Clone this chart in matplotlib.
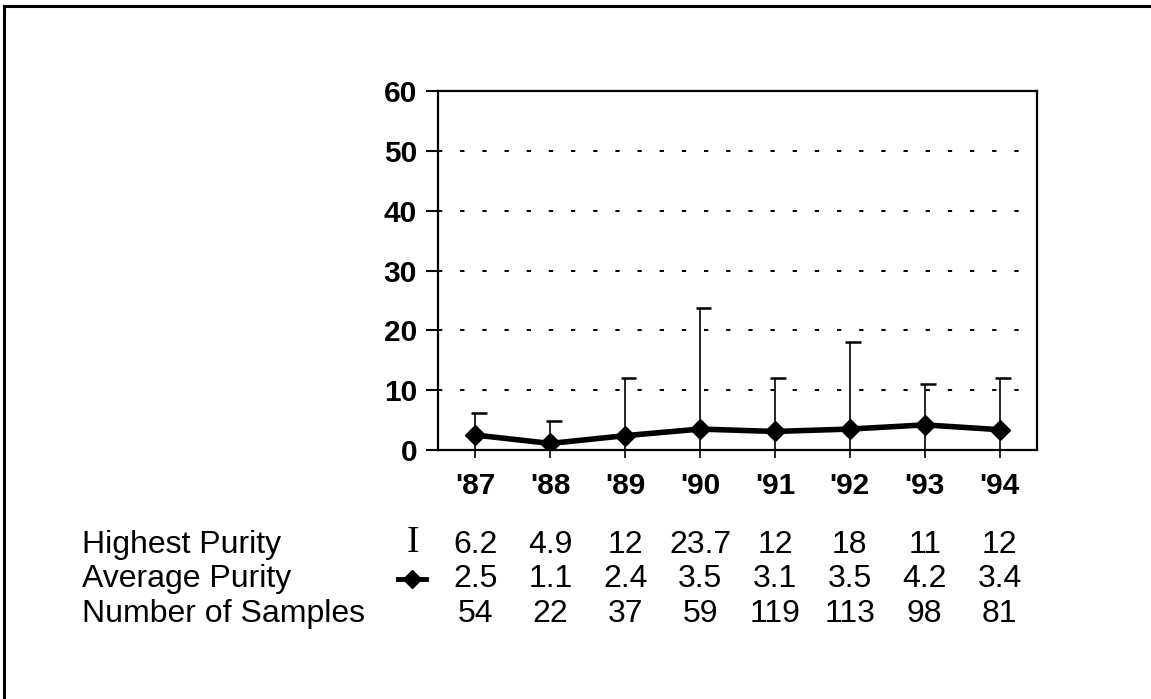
import matplotlib
matplotlib.use("Agg")
import matplotlib.pyplot as plt
from matplotlib.lines import Line2D
import matplotlib.transforms as mtrans

plt.rcParams['font.family'] = ['Liberation Sans', 'DejaVu Sans']

years = ["'87", "'88", "'89", "'90", "'91", "'92", "'93", "'94"]
highest = [6.2, 4.9, 12, 23.7, 12, 18, 11, 12]
average = [2.5, 1.1, 2.4, 3.5, 3.1, 3.5, 4.2, 3.4]
samples = [54, 22, 37, 59, 119, 113, 98, 81]
highest_lbl = ["6.2", "4.9", "12", "23.7", "12", "18", "11", "12"]
average_lbl = ["2.5", "1.1", "2.4", "3.5", "3.1", "3.5", "4.2", "3.4"]
row_names = ["Highest Purity", "Average Purity", "Number of Samples"]

fig = plt.figure(figsize=(11.51, 6.99), dpi=100)
ax = fig.add_axes([0.3805, 0.3562, 0.5205, 0.5136])
x = list(range(len(years)))

# grid
for g in [10, 20, 30, 40, 50]:
    ax.axhline(g, color='black', lw=1.4, dashes=(2.2, 9.2), zorder=1)

# high bars from 0 with cap leaning right
ax.vlines(x, 0, highest, color='black', lw=1.2, zorder=2)
ax.hlines(highest, [i - 0.06 for i in x], [i + 0.15 for i in x], color='black', lw=1.8, zorder=2)

ax.plot(x, average, color='black', lw=4, marker='D', markersize=10, zorder=3)

ax.set_xlim(-0.5, 7.5)
ax.set_ylim(0, 60)
ax.set_yticks([0, 10, 20, 30, 40, 50, 60])
ax.set_xticks(x)
ax.set_xticklabels(years, fontweight='bold', fontsize=21.5)
for lbl in ax.get_yticklabels():
    lbl.set_fontweight('bold')
    lbl.set_fontsize(21.5)
ax.tick_params(axis='y', direction='out', length=9, width=1.5, pad=6)
ax.tick_params(axis='x', direction='out', length=6, width=1.2, pad=10)
for s in ax.spines.values():
    s.set_linewidth(1.6)

# data table below
row_y = [0.221, 0.171, 0.122]
tr = mtrans.blended_transform_factory(ax.transData, fig.transFigure)
for name, yy in zip(row_names, row_y):
    fig.text(0.071, yy, name, fontsize=23, va='center', ha='left')
for i in x:
    ax.text(i, row_y[0], highest_lbl[i], transform=tr, fontsize=23, ha='center', va='center')
    ax.text(i, row_y[1], average_lbl[i], transform=tr, fontsize=23, ha='center', va='center')
    ax.text(i, row_y[2], str(samples[i]), transform=tr, fontsize=23, ha='center', va='center')

# legend symbols in table
ax.text(-0.83, row_y[0] + 0.002, "I", transform=tr, fontsize=27, ha='center', va='center',
        family=['Liberation Serif', 'DejaVu Serif'])
ax.plot([-1.03, -0.66], [row_y[1], row_y[1]], transform=tr, color='black', lw=3.5,
        clip_on=False)
ax.plot([-0.84], [row_y[1]], transform=tr, color='black', marker='D', markersize=9,
        clip_on=False)

# outer frame (top and left only)
fig.add_artist(Line2D([0.0035, 1.0], [0.992, 0.992], color='black', lw=2.2, transform=fig.transFigure))
fig.add_artist(Line2D([0.0035, 0.0035], [0.0, 0.992], color='black', lw=2.2, transform=fig.transFigure))

fig.savefig("out.png", dpi=100)
